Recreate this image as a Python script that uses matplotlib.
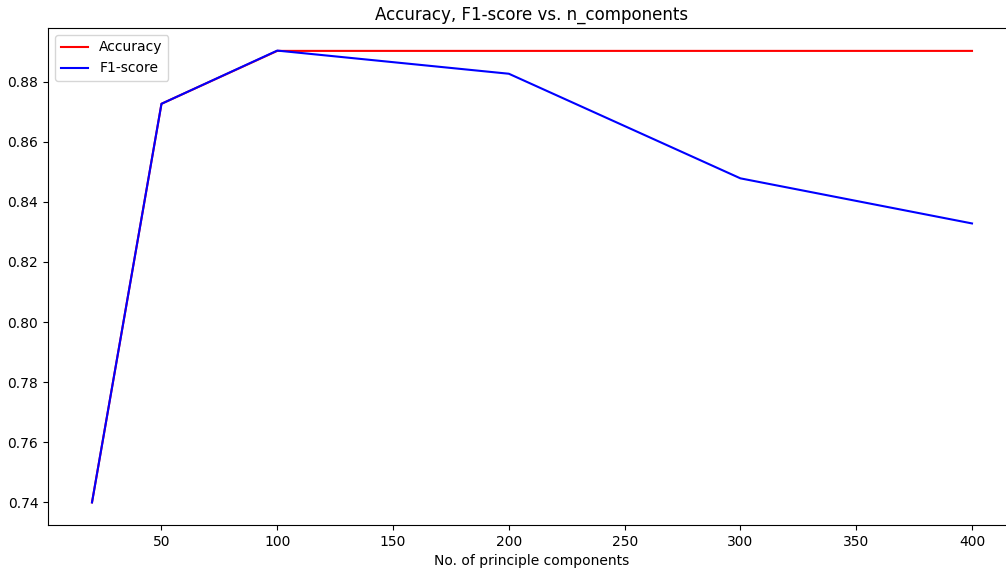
import matplotlib
matplotlib.use("Agg")
import matplotlib.pyplot as plt

n_components = [20, 50, 100, 200, 300, 400]
accuracy = [0.7400, 0.8726, 0.8902, 0.8902, 0.8902, 0.8902]
f1_score = [0.7400, 0.8726, 0.8903, 0.8826, 0.8478, 0.8328]

fig = plt.figure(figsize=(10.06, 5.71), dpi=100)
# the original figure was cropped on the right, so the axes run past the edge
ax = fig.add_axes([48 / 1006, 46 / 571, 968 / 1006, 497 / 571])

ax.plot(n_components, accuracy, color="red", label="Accuracy")
ax.plot(n_components, f1_score, color="blue", label="F1-score")

ax.set_title("Accuracy, F1-score vs. n_components")
ax.set_xlabel("No. of principle components")
ax.legend(loc="upper left")

fig.savefig("out.png", dpi=100, facecolor="white")
